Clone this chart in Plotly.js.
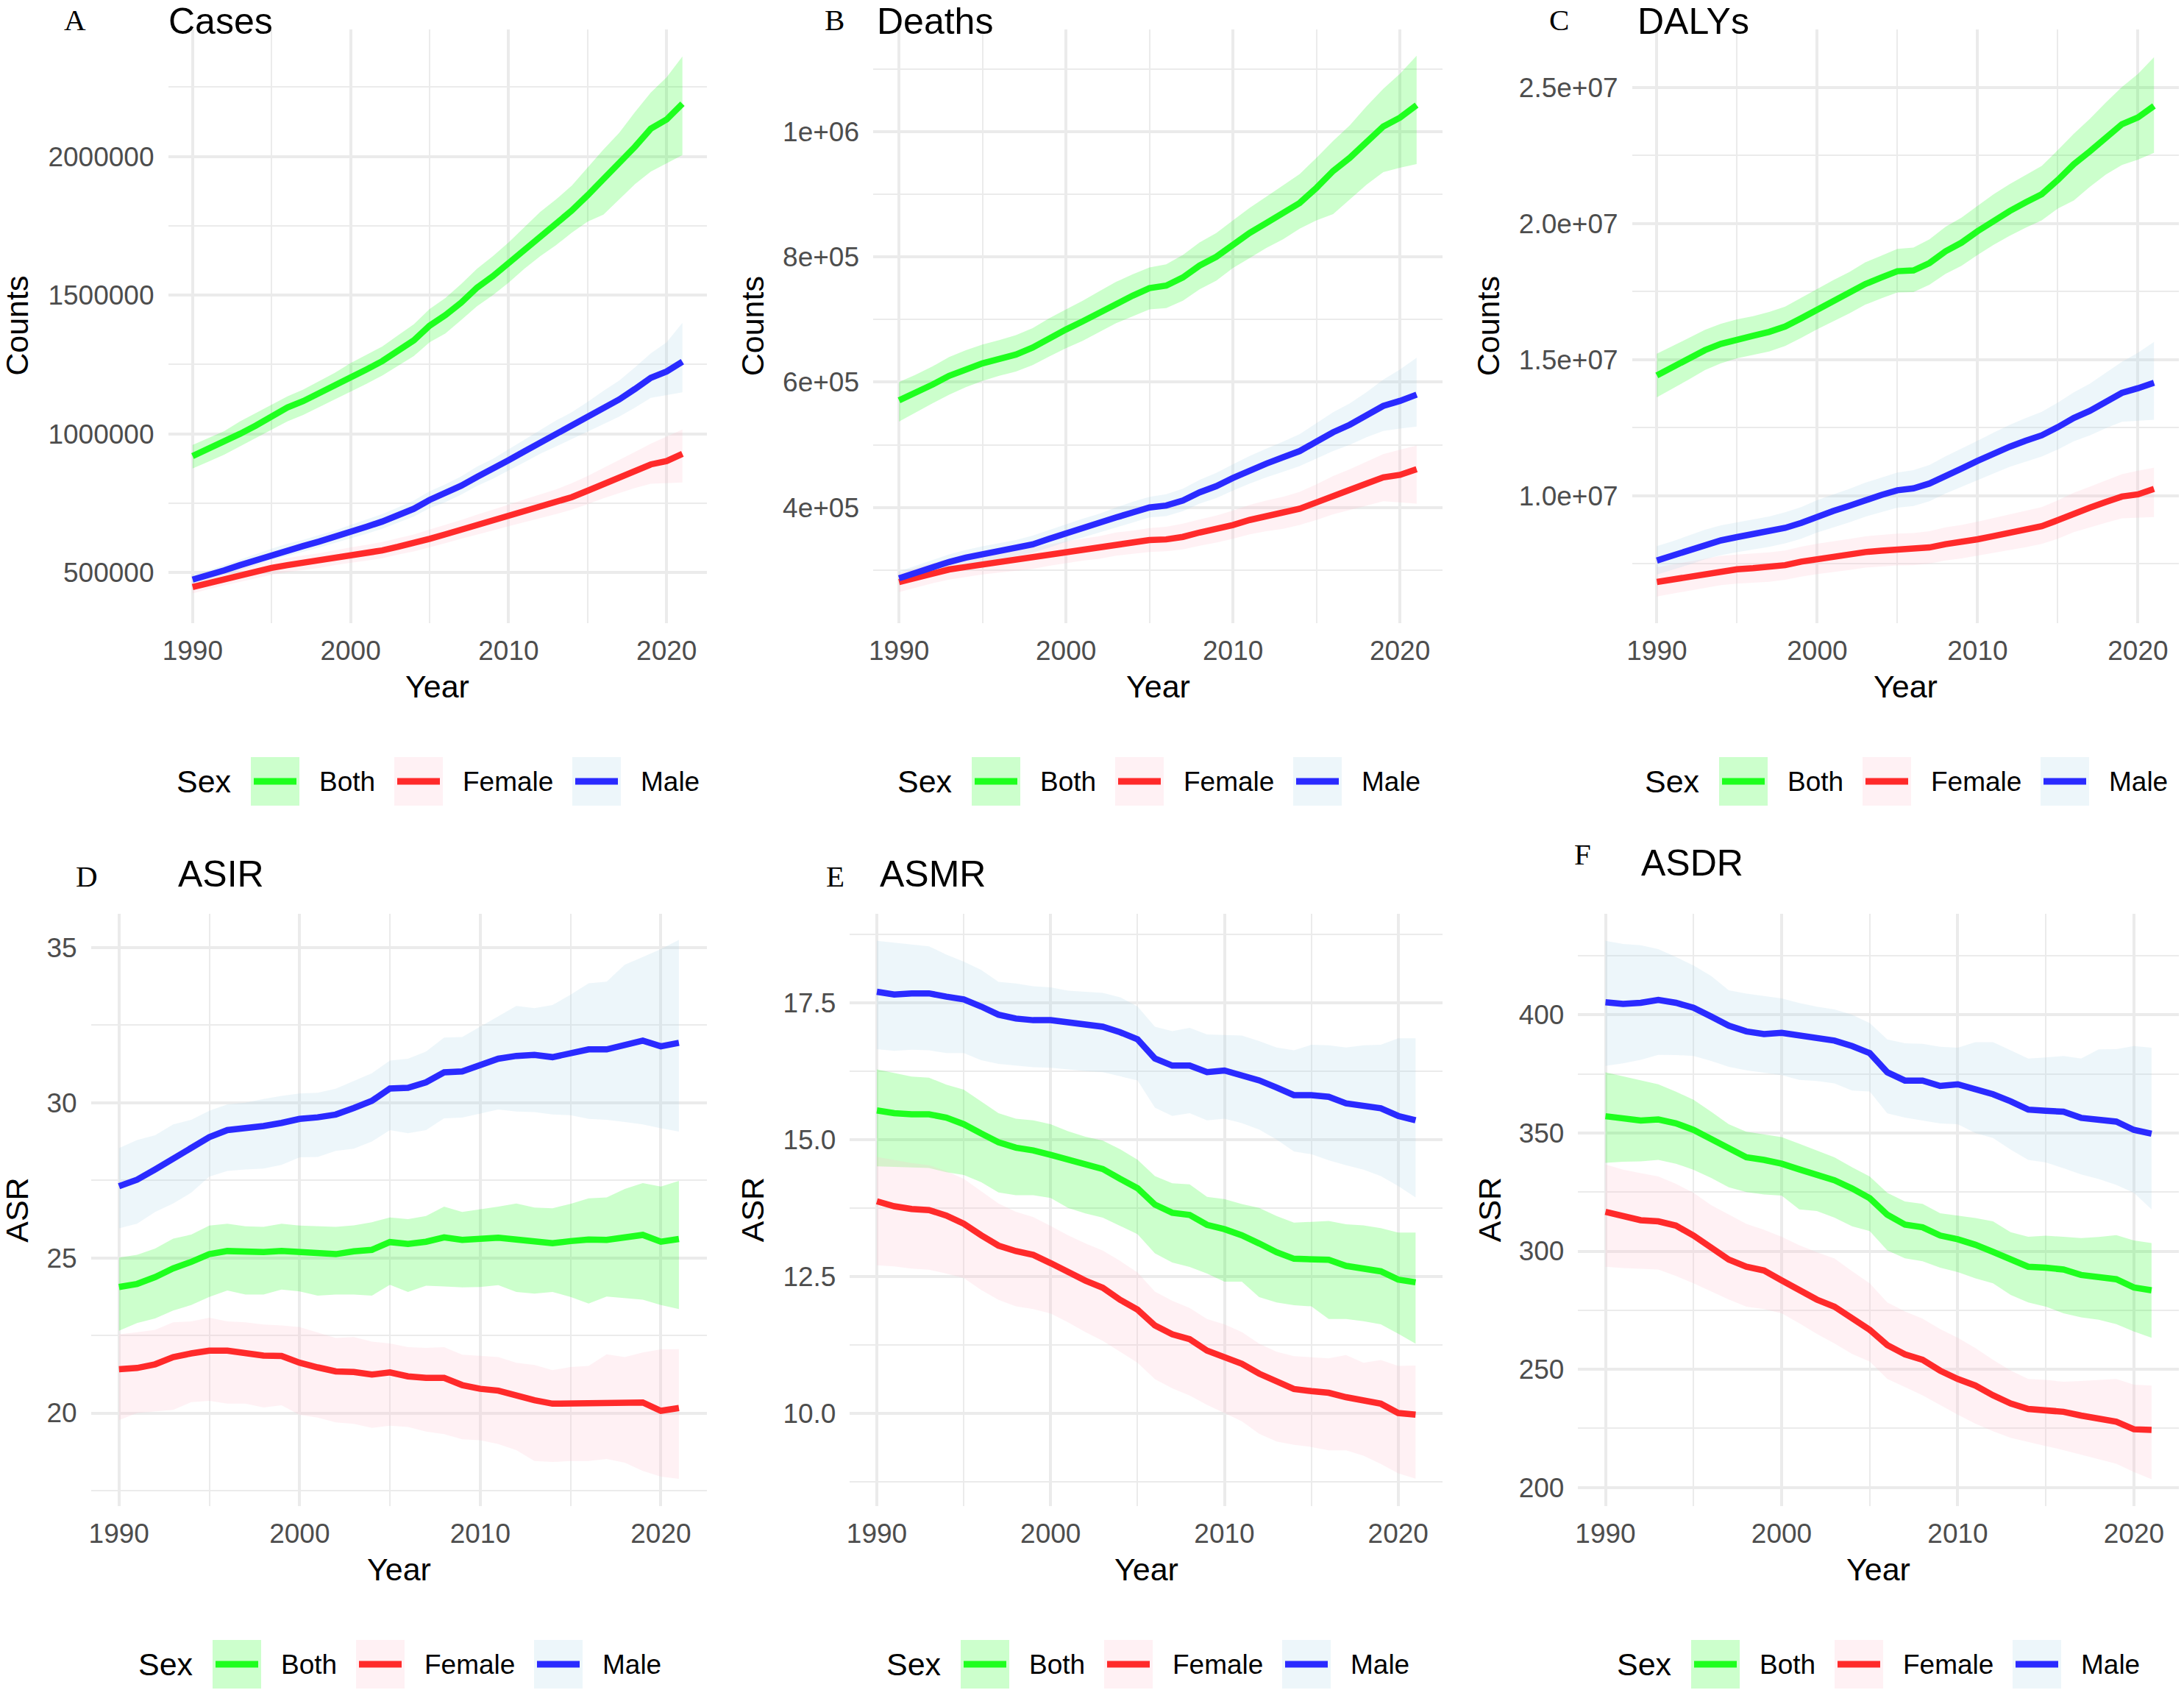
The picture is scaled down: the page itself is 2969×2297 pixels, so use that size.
<!DOCTYPE html>
<html>
<head>
<meta charset="utf-8">
<script src="https://cdn.plot.ly/plotly-3.0.1.min.js"></script>
<style>html,body{margin:0;padding:0;background:#fff;}#chart{width:2969px;height:2297px;}</style>
</head>
<body>
<div id="chart"></div>
<script>
// ---------------- DATA ----------------
const years = [1990,1991,1992,1993,1994,1995,1996,1997,1998,1999,2000,2001,2002,2003,2004,2005,2006,2007,2008,2009,2010,2011,2012,2013,2014,2015,2016,2017,2018,2019,2020,2021];
const sexes = ["Both","Female","Male"];

// A. Cases
const casesBoth   = [920000,945000,970000,1000000,1030000,1065000,1095000,1118000,1145000,1175000,1205000,1232000,1262000,1298000,1337000,1390000,1428000,1473000,1527000,1568000,1615000,1667000,1715000,1760000,1805000,1860000,1918000,1972000,2035000,2100000,2133000,2190000];
const casesBothLo = [875000,900000,925000,955000,985000,1015000,1045000,1068000,1095000,1125000,1152000,1180000,1210000,1245000,1280000,1330000,1362000,1410000,1460000,1500000,1545000,1595000,1640000,1680000,1725000,1765000,1790000,1845000,1900000,1945000,1975000,2005000];
const casesBothHi = [960000,985000,1010000,1045000,1075000,1105000,1135000,1160000,1190000,1220000,1255000,1285000,1315000,1355000,1395000,1450000,1490000,1540000,1595000,1640000,1690000,1745000,1800000,1845000,1895000,1960000,2025000,2085000,2160000,2230000,2285000,2360000];
const casesMale   = [475000,490000,508000,527000,545000,565000,582000,596000,612000,628000,647000,665000,684000,707000,730000,762000,785000,813000,845000,872000,905000,937000,968000,998000,1025000,1058000,1092000,1124000,1162000,1202000,1225000,1260000];
const casesMaleLo = [458000,473000,490000,508000,526000,545000,561000,575000,590000,605000,623000,640000,658000,680000,702000,732000,754000,781000,812000,838000,868000,898000,928000,955000,980000,1008000,1035000,1062000,1095000,1130000,1140000,1150000];
const casesMaleHi = [492000,508000,527000,547000,566000,586000,604000,618000,635000,652000,672000,691000,711000,735000,760000,793000,818000,847000,882000,910000,945000,980000,1015000,1048000,1078000,1115000,1155000,1192000,1240000,1290000,1330000,1400000];
const casesFemale   = [448000,462000,477000,492000,505000,517000,527000,535000,543000,553000,562000,570000,580000,593000,605000,622000,638000,655000,673000,688000,705000,722000,738000,754000,772000,795000,820000,843000,868000,890000,902000,928000];
const casesFemaleLo = [425000,440000,454000,468000,480000,492000,502000,510000,517000,527000,535000,543000,552000,565000,576000,592000,606000,622000,638000,652000,667000,682000,697000,711000,727000,747000,768000,787000,805000,820000,822000,825000];
const casesFemaleHi = [470000,485000,500000,516000,530000,543000,553000,562000,570000,581000,591000,600000,610000,624000,637000,655000,672000,690000,709000,726000,745000,764000,782000,800000,822000,848000,877000,905000,935000,965000,990000,1016000];

// B. Deaths
const deathsBoth   = [571000,583000,596000,610000,621000,630000,637000,644000,655000,670000,684000,697000,711000,726000,738000,750000,754000,767000,786000,800000,820000,838000,854000,870000,886000,910000,937000,958000,983000,1008000,1022000,1042000];
const deathsBothLo = [537000,552000,566000,580000,592000,602000,610000,617000,627000,641000,654000,666000,680000,694000,705000,716000,718000,730000,748000,762000,782000,798000,814000,828000,845000,858000,868000,892000,915000,935000,942000,948000];
const deathsBothHi = [600000,612000,625000,640000,651000,660000,667000,675000,686000,702000,716000,730000,745000,760000,772000,783000,788000,803000,823000,838000,858000,878000,896000,914000,932000,958000,985000,1010000,1040000,1068000,1092000,1121000];
const deathsMale   = [287000,296000,305000,313000,320000,325000,330000,335000,341000,350000,359000,367000,375000,384000,392000,400000,403000,411000,424000,434000,447000,459000,470000,480000,490000,505000,520000,532000,547000,562000,570000,580000];
const deathsMaleLo = [276000,285000,293000,301000,308000,313000,318000,322000,328000,336000,345000,352000,360000,368000,376000,384000,386000,394000,406000,415000,427000,438000,448000,457000,466000,478000,490000,500000,512000,522000,526000,529000];
const deathsMaleHi = [298000,307000,316000,325000,332000,338000,343000,348000,355000,364000,373000,382000,390000,400000,409000,417000,421000,430000,444000,455000,469000,482000,494000,505000,517000,534000,552000,566000,584000,604000,620000,639000];
const deathsFemale   = [281000,288000,295000,301000,305000,309000,312000,315000,319000,324000,328000,332000,336000,341000,344000,348000,349000,353000,360000,365000,372000,380000,386000,391000,398000,408000,419000,428000,438000,448000,452000,461000];
const deathsFemaleLo = [265000,272000,279000,285000,289000,293000,296000,299000,302000,307000,311000,315000,318000,323000,326000,329000,330000,333000,339000,344000,350000,357000,362000,366000,372000,380000,389000,396000,403000,410000,408000,406000];
const deathsFemaleHi = [296000,304000,311000,318000,322000,326000,329000,332000,336000,341000,346000,350000,354000,360000,363000,367000,369000,374000,381000,387000,395000,404000,411000,417000,425000,437000,450000,461000,473000,485000,492000,499000];

// C. DALYs
const dalysBoth   = [14420000,14720000,15020000,15350000,15580000,15750000,15880000,16020000,16220000,16520000,16850000,17150000,17450000,17780000,18020000,18250000,18280000,18550000,18980000,19300000,19720000,20120000,20460000,20780000,21080000,21600000,22180000,22650000,23150000,23650000,23900000,24320000];
const dalysBothLo = [13620000,13950000,14270000,14620000,14870000,15050000,15180000,15300000,15500000,15800000,16120000,16420000,16700000,17020000,17250000,17470000,17480000,17750000,18150000,18450000,18850000,19220000,19550000,19850000,20120000,20550000,20850000,21350000,21800000,22150000,22350000,22600000];
const dalysBothHi = [15220000,15500000,15800000,16100000,16320000,16480000,16600000,16750000,16950000,17270000,17600000,17920000,18220000,18580000,18820000,19070000,19120000,19420000,19880000,20220000,20650000,21080000,21450000,21780000,22120000,22700000,23300000,23850000,24450000,25020000,25500000,26110000];
const dalysMale   = [7620000,7800000,8000000,8200000,8360000,8480000,8580000,8680000,8820000,9000000,9240000,9440000,9630000,9850000,10030000,10200000,10270000,10450000,10750000,11000000,11280000,11550000,11800000,12020000,12220000,12520000,12860000,13120000,13450000,13780000,13950000,14150000];
const dalysMaleLo = [7100000,7280000,7470000,7660000,7820000,7930000,8030000,8120000,8250000,8420000,8650000,8840000,9020000,9230000,9400000,9560000,9620000,9800000,10080000,10310000,10570000,10820000,11060000,11260000,11440000,11700000,12000000,12220000,12480000,12720000,12760000,12790000];
const dalysMaleHi = [8150000,8330000,8540000,8750000,8910000,9030000,9130000,9240000,9390000,9580000,9840000,10050000,10250000,10480000,10670000,10850000,10940000,11130000,11450000,11730000,12020000,12320000,12600000,12850000,13080000,13420000,13800000,14120000,14520000,14920000,15250000,15650000];
const dalysFemale   = [6830000,6930000,7030000,7150000,7250000,7300000,7340000,7380000,7450000,7580000,7680000,7760000,7840000,7930000,7980000,8020000,8030000,8100000,8220000,8300000,8400000,8520000,8640000,8750000,8880000,9100000,9360000,9560000,9770000,9970000,10050000,10250000];
const dalysFemaleLo = [6300000,6400000,6500000,6620000,6720000,6770000,6810000,6840000,6910000,7030000,7120000,7200000,7270000,7360000,7400000,7440000,7450000,7510000,7620000,7700000,7790000,7900000,8010000,8110000,8230000,8420000,8660000,8830000,9010000,9170000,9200000,9220000];
const dalysFemaleHi = [7370000,7470000,7570000,7690000,7790000,7840000,7880000,7920000,7990000,8130000,8240000,8320000,8410000,8510000,8560000,8610000,8630000,8700000,8840000,8930000,9050000,9180000,9310000,9440000,9580000,9830000,10110000,10330000,10560000,10790000,10920000,11030000];

// D. ASIR
const asirBoth   = [24.06,24.16,24.38,24.66,24.87,25.12,25.22,25.19,25.19,25.22,25.19,25.14,25.12,25.21,25.26,25.51,25.45,25.52,25.66,25.58,25.61,25.65,25.59,25.54,25.47,25.54,25.59,25.58,25.66,25.74,25.52,25.61];
const asirBothLo = [22.65,22.90,23.05,23.30,23.48,23.74,23.95,23.82,23.82,23.98,23.92,23.78,23.82,23.82,23.78,24.13,23.90,24.10,24.08,24.05,24.06,24.12,23.90,23.85,23.90,23.74,23.53,23.75,23.70,23.65,23.48,23.35];
const asirBothHi = [25.01,25.10,25.30,25.62,25.75,26.04,26.10,26.02,26.00,26.10,26.04,26.02,26.00,26.05,26.15,26.30,26.25,26.35,26.65,26.48,26.56,26.65,26.75,26.62,26.60,26.74,26.92,26.95,27.22,27.41,27.30,27.48];
const asirMale   = [27.31,27.52,27.85,28.20,28.51,28.89,29.12,29.16,29.25,29.35,29.48,29.53,29.62,29.83,30.06,30.46,30.48,30.66,30.98,31.01,31.24,31.42,31.51,31.54,31.47,31.59,31.72,31.72,31.86,32.00,31.82,31.93];
const asirMaleLo = [25.95,26.10,26.48,26.75,27.10,27.62,27.80,27.85,27.88,28.00,28.24,28.25,28.45,28.52,28.75,29.12,29.02,29.12,29.50,29.52,29.65,29.78,29.72,29.70,29.62,29.60,29.48,29.45,29.38,29.30,29.18,29.07];
const asirMaleHi = [28.54,28.80,28.95,29.30,29.45,29.74,29.95,30.00,30.12,30.22,30.30,30.32,30.45,30.70,30.95,31.36,31.42,31.65,32.10,32.12,32.45,32.80,33.12,33.05,33.15,33.48,33.85,33.90,34.45,34.70,34.95,35.25];
const asirFemale   = [21.41,21.45,21.57,21.80,21.92,22.01,22.01,21.92,21.85,21.84,21.62,21.47,21.34,21.32,21.24,21.31,21.18,21.13,21.13,20.90,20.78,20.72,20.55,20.41,20.30,20.30,20.34,20.30,20.34,20.34,20.07,20.16];
const asirFemaleLo = [19.77,20.00,20.05,20.10,20.35,20.39,20.30,20.30,20.18,20.25,19.94,19.85,19.70,19.65,19.52,19.59,19.55,19.40,19.32,19.15,19.12,19.00,18.80,18.45,18.42,18.45,18.45,18.52,18.40,18.13,17.95,17.88];
const asirFemaleHi = [22.54,22.60,22.68,22.92,22.95,23.07,22.95,22.92,22.85,22.82,22.77,22.60,22.42,22.45,22.30,22.24,22.12,22.10,22.12,21.88,21.84,21.80,21.62,21.55,21.38,21.48,21.52,21.89,21.80,21.95,22.05,22.06];

// E. ASMR
const asmrBoth   = [15.53,15.48,15.46,15.46,15.40,15.28,15.11,14.95,14.85,14.80,14.72,14.63,14.53,14.46,14.28,14.11,13.81,13.66,13.62,13.44,13.36,13.25,13.10,12.94,12.82,12.82,12.80,12.69,12.65,12.59,12.44,12.39];
const asmrBothLo = [14.51,14.50,14.49,14.48,14.40,14.35,14.22,14.03,13.98,13.98,13.93,13.75,13.65,13.57,13.42,13.27,12.92,12.75,12.67,12.55,12.40,12.40,12.12,12.02,11.97,11.95,11.72,11.72,11.68,11.62,11.45,11.27];
const asmrBothHi = [16.28,16.22,16.15,16.13,16.00,15.91,15.70,15.48,15.38,15.35,15.28,15.15,15.05,14.98,14.82,14.63,14.33,14.20,14.18,13.95,13.91,13.82,13.75,13.60,13.48,13.50,13.51,13.45,13.43,13.38,13.30,13.30];
const asmrMale   = [17.70,17.65,17.67,17.67,17.61,17.56,17.43,17.28,17.21,17.18,17.18,17.14,17.08,17.06,16.96,16.83,16.48,16.35,16.35,16.23,16.26,16.18,16.08,15.95,15.81,15.81,15.78,15.66,15.61,15.57,15.43,15.35];
const asmrMaleLo = [16.65,16.62,16.64,16.63,16.58,16.58,16.45,16.38,16.35,16.32,16.31,16.28,16.25,16.23,16.15,16.08,15.58,15.43,15.48,15.35,15.38,15.30,15.18,15.00,14.78,14.73,14.62,14.53,14.45,14.33,14.15,13.94];
const asmrMaleHi = [18.63,18.60,18.56,18.53,18.38,18.25,18.10,17.88,17.85,17.80,17.78,17.72,17.70,17.68,17.60,17.43,17.06,16.98,17.04,16.92,16.91,16.90,16.80,16.68,16.63,16.73,16.72,16.68,16.72,16.73,16.85,16.85];
const asmrFemale   = [13.87,13.78,13.73,13.71,13.61,13.46,13.25,13.06,12.96,12.89,12.74,12.57,12.42,12.29,12.07,11.89,11.60,11.44,11.35,11.14,11.02,10.90,10.72,10.57,10.44,10.40,10.37,10.29,10.24,10.17,10.00,9.97];
const asmrFemaleLo = [12.70,12.68,12.64,12.62,12.55,12.47,12.25,12.07,11.95,11.90,11.82,11.66,11.48,11.32,11.12,10.92,10.62,10.45,10.32,10.15,10.00,9.85,9.62,9.48,9.42,9.38,9.32,9.32,9.22,9.07,8.90,8.80];
const asmrFemaleHi = [14.68,14.62,14.57,14.53,14.42,14.28,14.05,13.83,13.68,13.58,13.42,13.25,13.10,12.97,12.78,12.57,12.22,12.05,11.92,11.72,11.62,11.48,11.27,11.12,11.04,11.02,11.00,11.06,10.92,10.97,10.86,10.87];

// F. ASDR
const asdrBoth   = [357.1,356.0,355.3,355.7,354.1,351.3,347.4,343.2,339.7,338.6,337.0,334.6,332.1,330.0,326.5,322.4,315.4,311.2,310.1,306.6,305.0,302.7,299.7,296.4,293.4,293.0,292.2,289.9,289.2,288.1,284.6,283.4];
const asdrBothLo = [337.4,337.8,338.0,338.6,337.0,334.4,331.0,327.0,325.0,324.0,323.5,317.7,317.0,314.2,310.5,308.5,300.3,297.0,295.7,293.0,291.1,288.5,286.4,281.5,278.3,276.5,273.7,272.0,271.0,269.1,266.0,263.3];
const asdrBothHi = [375.7,374.0,372.5,370.6,367.5,364.1,359.0,353.7,350.5,349.5,348.3,345.5,342.5,339.7,335.5,331.6,324.7,321.0,320.0,316.0,315.0,314.0,312.6,308.0,306.1,306.5,306.1,305.5,306.0,306.8,304.5,303.4];
const asdrMale   = [405.3,404.6,405.1,406.3,405.1,403.0,399.3,395.4,393.0,391.9,392.4,391.2,390.0,389.1,386.8,383.8,375.7,372.2,372.2,369.9,370.6,368.7,366.4,363.4,359.9,359.4,359.0,356.4,355.7,354.8,351.3,349.7];
const asdrMaleLo = [378.4,379.5,381.0,383.1,383.0,382.6,380.5,378.0,376.5,375.5,374.5,372.5,372.0,371.0,368.0,367.6,358.3,356.5,355.3,354.0,353.7,350.0,347.9,343.0,338.6,337.5,335.1,332.5,330.5,328.0,324.7,317.7];
const asdrMaleHi = [431.3,430.0,429.5,427.8,424.5,420.9,416.5,410.4,409.0,408.0,407.0,405.0,403.5,402.3,400.0,396.5,389.6,388.0,387.7,386.5,386.1,388.4,388.4,385.0,381.5,382.0,382.6,381.5,385.4,385.5,386.8,386.1];
const asdrFemale   = [316.6,314.7,313.1,312.6,310.8,306.6,301.5,296.4,293.4,291.8,287.6,283.4,279.5,276.5,271.4,266.7,260.2,256.3,254.0,249.4,245.9,243.1,239.0,235.5,233.2,232.7,232.0,230.4,229.2,227.8,224.6,224.3];
const asdrFemaleLo = [293.4,292.8,292.5,292.2,289.5,286.4,283.0,279.5,276.5,275.5,273.7,269.5,265.0,260.9,256.5,253.3,245.9,242.5,239.0,235.0,230.8,227.0,223.8,221.0,219.2,217.5,215.8,214.0,212.0,210.0,206.5,203.5];
const asdrFemaleHi = [336.7,334.5,333.0,331.6,328.5,324.7,319.5,315.4,311.5,309.0,306.1,302.5,299.5,296.9,291.5,286.4,278.3,274.5,271.4,267.0,263.3,259.0,254.0,249.5,245.9,245.5,244.7,245.0,245.5,245.9,243.5,243.1];

// tick labels
const yearTicks = [1990,2000,2010,2020];
const casesTicks = [500000,1000000,1500000,2000000];
const casesTickText = ["500000","1000000","1500000","2000000"];
const deathsTicks = [400000,600000,800000,1000000];
const deathsTickText = ["4e+05","6e+05","8e+05","1e+06"];
const dalysTicks = [10000000,15000000,20000000,25000000];
const dalysTickText = ["1.0e+07","1.5e+07","2.0e+07","2.5e+07"];
const asirTicks = [20,25,30,35];
const asirTickText = ["20","25","30","35"];
const asmrTicks = [10,12.5,15,17.5];
const asmrTickText = ["10.0","12.5","15.0","17.5"];
const asdrTicks = [200,250,300,350,400];
const asdrTickText = ["200","250","300","350","400"];

const panelLetters = ["A","B","C","D","E","F"];
const panelTitles = ["Cases","Deaths","DALYs","ASIR","ASMR","ASDR"];
const yTitles = ["Counts","Counts","Counts","ASR","ASR","ASR"];

// ---------------- STYLE / LAYOUT ----------------
const W = 2969, H = 2297;
const px = v => v / W;
const py = v => 1 - v / H;
const lineColors = {Both: "#1EFF1E", Female: "#FF2A2A", Male: "#2A2AFF"};
const fillColors = {Both: "rgba(0,255,0,0.2)", Female: "rgba(255,192,203,0.22)", Male: "rgba(173,216,230,0.22)"};
const GRID = "#EBEBEB";
const SANS = "Liberation Sans, Arial, sans-serif";
const SERIF = "Liberation Serif, Times New Roman, serif";

const panels = [
  {series: {Both:[casesBoth,casesBothLo,casesBothHi], Female:[casesFemale,casesFemaleLo,casesFemaleHi], Male:[casesMale,casesMaleLo,casesMaleHi]},
   ticks: casesTicks, tickText: casesTickText, minor0: 250000, minorD: 250000,
   x0: 228.5, x1: 961, y0: 39.6, y1: 847, yr: [317800, 2458700],
   letter: [85, 27], title: [228, 0], titleTop: true, ytitle: 23.5, xtitleY: 933, legX: 240, legY: 1062},
  {series: {Both:[deathsBoth,deathsBothLo,deathsBothHi], Female:[deathsFemale,deathsFemaleLo,deathsFemaleHi], Male:[deathsMale,deathsMaleLo,deathsMaleHi]},
   ticks: deathsTicks, tickText: deathsTickText, minor0: 100000, minorD: 100000,
   x0: 1187, x1: 1961, y0: 39.6, y1: 847, yr: [215300, 1163300],
   letter: [1119, 27], title: [1191, 0], titleTop: true, ytitle: 1023, xtitleY: 933, legX: 1220, legY: 1062},
  {series: {Both:[dalysBoth,dalysBothLo,dalysBothHi], Female:[dalysFemale,dalysFemaleLo,dalysFemaleHi], Male:[dalysMale,dalysMaleLo,dalysMaleHi]},
   ticks: dalysTicks, tickText: dalysTickText, minor0: 2500000, minorD: 2500000,
   x0: 2218.6, x1: 2962, y0: 39.6, y1: 847, yr: [5318000, 27144000],
   letter: [2104, 27], title: [2225, 0], titleTop: true, ytitle: 2023, xtitleY: 933, legX: 2236, legY: 1062},
  {series: {Both:[asirBoth,asirBothLo,asirBothHi], Female:[asirFemale,asirFemaleLo,asirFemaleHi], Male:[asirMale,asirMaleLo,asirMaleHi]},
   ticks: asirTicks, tickText: asirTickText, minor0: 2.5, minorD: 2.5,
   x0: 123.7, x1: 961, y0: 1241.6, y1: 2047, yr: [17.0, 36.1],
   letter: [101, 1191], title: [241, 1188], ytitle: 23.5, xtitleY: 2133, legX: 188, legY: 2262},
  {series: {Both:[asmrBoth,asmrBothLo,asmrBothHi], Female:[asmrFemale,asmrFemaleLo,asmrFemaleHi], Male:[asmrMale,asmrMaleLo,asmrMaleHi]},
   ticks: asmrTicks, tickText: asmrTickText, minor0: 1.25, minorD: 1.25,
   x0: 1155.4, x1: 1961, y0: 1241.6, y1: 2047, yr: [8.30, 19.13],
   letter: [1121, 1191], title: [1195, 1188], ytitle: 1023, xtitleY: 2133, legX: 1205, legY: 2262},
  {series: {Both:[asdrBoth,asdrBothLo,asdrBothHi], Female:[asdrFemale,asdrFemaleLo,asdrFemaleHi], Male:[asdrMale,asdrMaleLo,asdrMaleHi]},
   ticks: asdrTicks, tickText: asdrTickText, minor0: 25, minorD: 50,
   x0: 2145.4, x1: 2962, y0: 1241.6, y1: 2047, yr: [192.1, 442.9],
   letter: [2138, 1161], title: [2230, 1173], ytitle: 2025, xtitleY: 2133, legX: 2198, legY: 2262}
];

const traces = [];
const layout = {
  width: W, height: H, margin: {l:0, r:0, t:0, b:0},
  paper_bgcolor: "#ffffff", plot_bgcolor: "#ffffff",
  showlegend: false, annotations: [], shapes: [],
  font: {family: SANS, color: "#000"}
};

panels.forEach((p, i) => {
  const n = i === 0 ? "" : String(i + 1);
  const xa = "x" + n, ya = "y" + n;
  // ribbons
  sexes.forEach(s => {
    const [, lo, hi] = p.series[s];
    traces.push({
      type: "scatter", mode: "lines", xaxis: xa, yaxis: ya,
      x: years.concat(years.slice().reverse()),
      y: hi.concat(lo.slice().reverse()),
      fill: "toself", fillcolor: fillColors[s], line: {width: 0}, hoverinfo: "skip"
    });
  });
  // lines
  sexes.forEach(s => {
    traces.push({
      type: "scatter", mode: "lines", xaxis: xa, yaxis: ya,
      x: years, y: p.series[s][0], name: s,
      line: {color: lineColors[s], width: 8.5}
    });
  });
  layout["xaxis" + n] = {
    domain: [px(p.x0), px(p.x1)], anchor: ya, range: [1988.45, 2022.55],
    tickmode: "array", tickvals: yearTicks, ticktext: yearTicks.map(String),
    showgrid: true, gridcolor: GRID, gridwidth: 4, zeroline: false, showline: false,
    ticks: "", ticklabelstandoff: 12,
    tickfont: {family: SANS, size: 37, color: "#4D4D4D"},
    minor: {tickmode: "linear", tick0: 1995, dtick: 10, showgrid: true, gridcolor: GRID, gridwidth: 2, ticks: ""}
  };
  layout["yaxis" + n] = {
    domain: [py(p.y1), py(p.y0)], anchor: xa, range: p.yr,
    tickmode: "array", tickvals: p.ticks, ticktext: p.tickText,
    showgrid: true, gridcolor: GRID, gridwidth: 4, zeroline: false, showline: false,
    ticks: "", ticklabelstandoff: 18,
    tickfont: {family: SANS, size: 37, color: "#4D4D4D"},
    minor: {tickmode: "linear", tick0: p.minor0, dtick: p.minorD, showgrid: true, gridcolor: GRID, gridwidth: 2, ticks: ""}
  };
  // panel letter
  layout.annotations.push({xref: "paper", yref: "paper", x: px(p.letter[0]), y: py(p.letter[1]), xanchor: "left", yanchor: "middle",
    text: panelLetters[i], showarrow: false, font: {family: SERIF, size: 41, color: "#000"}});
  // panel title
  layout.annotations.push({xref: "paper", yref: "paper", x: px(p.title[0]), y: py(p.title[1]), xanchor: "left",
    yanchor: p.titleTop ? "top" : "middle", borderpad: 0,
    text: panelTitles[i], showarrow: false, font: {family: SANS, size: 50, color: "#000"}});
  // y title
  layout.annotations.push({xref: "paper", yref: "paper", x: px(p.ytitle), y: py((p.y0 + p.y1) / 2), xanchor: "center", yanchor: "middle",
    text: yTitles[i], textangle: -90, showarrow: false, font: {family: SANS, size: 43, color: "#000"}});
  // x title
  layout.annotations.push({xref: "paper", yref: "paper", x: px((p.x0 + p.x1) / 2), y: py(p.xtitleY), xanchor: "center", yanchor: "middle",
    text: "Year", showarrow: false, font: {family: SANS, size: 43, color: "#000"}});
  // legend
  layout.annotations.push({xref: "paper", yref: "paper", x: px(p.legX - 2), y: py(p.legY), xanchor: "left", yanchor: "middle",
    text: "Sex", showarrow: false, font: {family: SANS, size: 43, color: "#000"}});
  const keyOff = [101, 296, 538], txtOff = [194, 389, 631];
  sexes.forEach((s, k) => {
    const kx = p.legX + keyOff[k];
    layout.shapes.push({type: "rect", xref: "paper", yref: "paper", x0: px(kx), x1: px(kx + 66), y0: py(p.legY + 33), y1: py(p.legY - 33),
      fillcolor: fillColors[s], line: {width: 0}});
    layout.shapes.push({type: "line", xref: "paper", yref: "paper", x0: px(kx + 4), x1: px(kx + 62), y0: py(p.legY), y1: py(p.legY),
      line: {color: lineColors[s], width: 9}});
    layout.annotations.push({xref: "paper", yref: "paper", x: px(p.legX + txtOff[k] - 2), y: py(p.legY), xanchor: "left", yanchor: "middle",
      text: s, showarrow: false, font: {family: SANS, size: 37, color: "#000"}});
  });
});

Plotly.newPlot("chart", traces, layout, {displayModeBar: false, staticPlot: true});
</script>
</body>
</html>
